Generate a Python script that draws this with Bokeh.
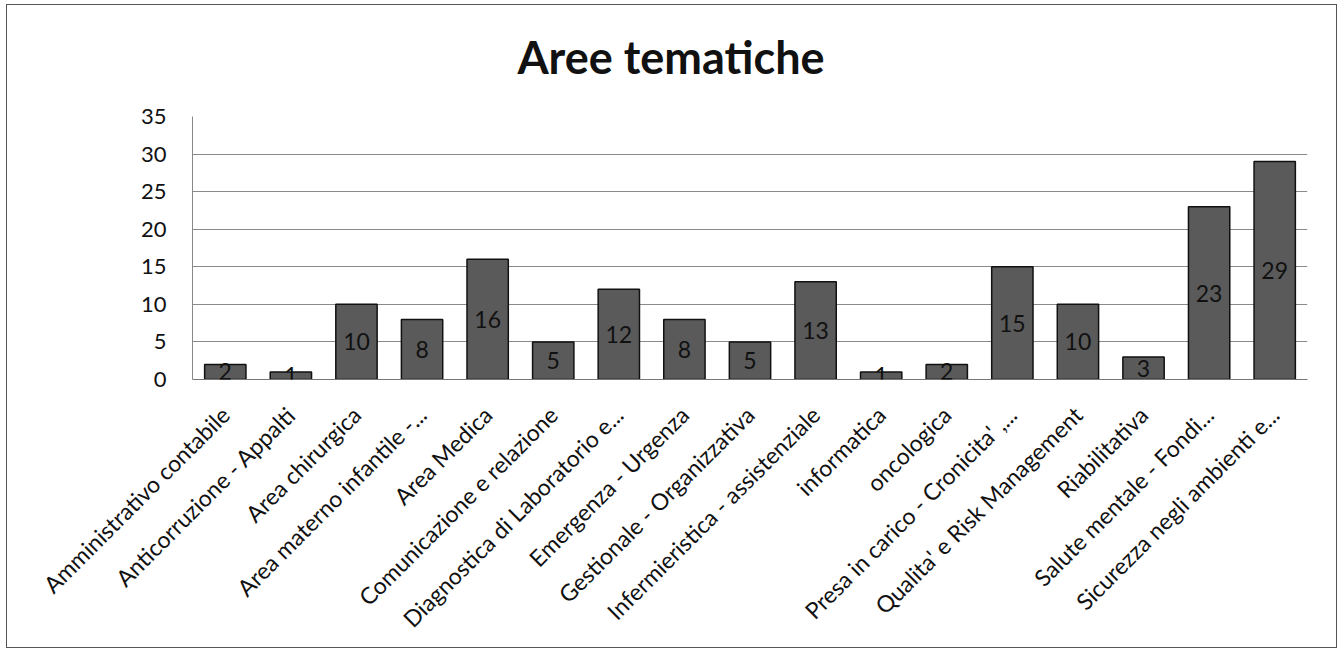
import math
from bokeh.plotting import figure
from bokeh.layouts import column
from bokeh.models import ColumnDataSource, FactorRange, LabelSet, FixedTicker
from bokeh.core.properties import value
from bokeh.embed import file_html
from bokeh.resources import INLINE

categories = [
    "Amministrativo contabile",
    "Anticorruzione - Appalti",
    "Area chirurgica",
    "Area materno infantile -...",
    "Area Medica",
    "Comunicazione e relazione",
    "Diagnostica di Laboratorio e...",
    "Emergenza - Urgenza",
    "Gestionale - Organizzativa",
    "Infermieristica - assistenziale",
    "informatica",
    "oncologica",
    "Presa in carico - Cronicita' ,...",
    "Qualita' e Risk Management",
    "Riabilitativa",
    "Salute mentale - Fondi...",
    "Sicurezza negli ambienti e...",
]
counts = [2, 1, 10, 8, 16, 5, 12, 8, 5, 13, 1, 2, 15, 10, 3, 23, 29]
y_ticks = [0, 5, 10, 15, 20, 25, 30, 35]
title_text = "Aree tematiche"

FONT = "Lato"
W = 1329
ML, MR = 185, 29
FW = W - ML - MR  # plot-area width

# ---- title strip (pixel coordinate space of the plot-area width) ----
tf = figure(width=W, height=90, x_range=(0, FW), y_range=(0, 90),
            min_border=0, min_border_left=ML, min_border_right=MR,
            output_backend="svg", toolbar_location=None,
            x_axis_type=None, y_axis_type=None,
            background_fill_color="white", border_fill_color="white")
tf.title = None
tf.outline_line_color = None
tf.xgrid.grid_line_color = None
tf.ygrid.grid_line_color = None
tf.text(x=[478.5], y=[39], text=[title_text],
        text_align="center", text_baseline="alphabetic",
        text_font=value(FONT), text_font_style="bold",
        text_font_size="45px", text_color="#111111")

# ---- bar chart ----
src = ColumnDataSource(dict(
    cat=categories,
    val=counts,
    mid=[v / 2 for v in counts],
    lab=[str(v) for v in counts],
))

p = figure(
    x_range=FactorRange(factors=categories, range_padding=0),
    y_range=(0, 35),
    width=W, height=552,
    min_border_left=ML, min_border_right=MR,
    min_border_top=21, min_border_bottom=268,
    output_backend="svg", toolbar_location=None,
    background_fill_color="white", border_fill_color="white",
)
p.title = None
p.outline_line_color = None

p.vbar(x="cat", top="val", width=0.63, source=src,
       fill_color="#5a5a5a", line_color="#111111", line_width=1.5)

labels = LabelSet(x="cat", y="mid", text="lab", source=src,
                  text_align="center", text_baseline="middle",
                  text_font=value(FONT), text_font_size="23px",
                  text_color="#111111")
p.add_layout(labels)

p.yaxis.ticker = FixedTicker(ticks=y_ticks)
p.yaxis.major_tick_line_color = None
p.yaxis.minor_tick_line_color = None
p.yaxis.axis_line_color = "#888888"
p.yaxis.major_label_standoff = 20
p.yaxis.major_label_text_font = FONT
p.yaxis.major_label_text_font_size = "22px"
p.yaxis.major_label_text_color = "#111111"

p.xaxis.major_label_orientation = math.pi / 4
p.xaxis.major_tick_line_color = None
p.xaxis.axis_line_color = "#777777"
p.xaxis.major_label_standoff = 25
p.xaxis.major_label_text_font = FONT
p.xaxis.major_label_text_font_size = "23px"
p.xaxis.major_label_text_color = "#111111"

p.xgrid.grid_line_color = None
p.ygrid.grid_line_color = "#8a8a8a"
p.ygrid.grid_line_width = 1

layout = column(tf, p, spacing=0)
layout.styles = {"border": "1px solid #555555", "margin-left": "6px",
                 "margin-top": "4px", "background-color": "white"}

open("out.html", "w").write(file_html(layout, INLINE))
